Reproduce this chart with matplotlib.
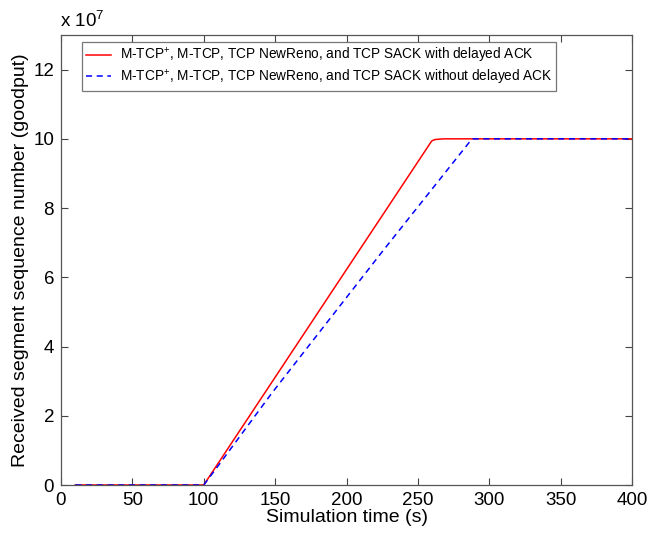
import matplotlib
matplotlib.use("Agg")
import matplotlib.pyplot as plt
from matplotlib.ticker import FuncFormatter

plt.rcParams['font.family'] = ['Liberation Sans', 'DejaVu Sans']
plt.rcParams['mathtext.fontset'] = 'custom'
plt.rcParams['mathtext.rm'] = 'Liberation Sans'
plt.rcParams['mathtext.it'] = 'Liberation Sans'

# Data (segment numbers)
red_t = [10, 100, 259.7, 262, 266, 269, 400]
red_v = [0, 0, 9.94e7, 9.98e7, 9.995e7, 10.0e7, 10.0e7]
blue_t = [10, 100, 110, 147.6, 225.6, 286, 288.4, 400]
blue_v = [0, 0, 0.55e7, 2.65e7, 6.77e7, 9.9e7, 10.0e7, 10.0e7]

label_red = "M-TCP$^{+}$, M-TCP, TCP NewReno, and TCP SACK with delayed ACK"
label_blue = "M-TCP$^{+}$, M-TCP, TCP NewReno, and TCP SACK without delayed ACK"
xticks = [0, 50, 100, 150, 200, 250, 300, 350, 400]
yticks = [0, 2e7, 4e7, 6e7, 8e7, 10e7, 12e7]

fig = plt.figure(figsize=(6.5, 5.38), dpi=100)
ax = fig.add_axes([61/650, 53/538, 571/650, 450/538])

ax.plot(red_t, red_v, color='#ff0000', lw=1.1, ls='-', label=label_red)
ax.plot(blue_t, blue_v, color='#0000ff', lw=1.1, ls=(0, (4, 3)), label=label_blue)

ax.set_xlim(0, 400)
ax.set_ylim(0, 13e7)
ax.set_xticks(xticks)
ax.set_yticks(yticks)
ax.yaxis.set_major_formatter(FuncFormatter(lambda v, p: f"{v/1e7:g}"))
ax.tick_params(direction='in', top=True, right=True, labelsize=13.5, length=5,
               color='#444444', pad=5)
for s in ax.spines.values():
    s.set_color('#555555')
    s.set_linewidth(0.9)

ax.set_xlabel("Simulation time (s)", fontsize=14, labelpad=0)
ax.set_ylabel("Received segment sequence number (goodput)", fontsize=14, labelpad=3)
fig.text(60/650, 1 - 21/538, "x 10$^{7}$", fontsize=13.5, ha='left', va='center')

leg = ax.legend(loc='upper left', bbox_to_anchor=(0.036, 0.985), fontsize=9.8,
                frameon=True, fancybox=False, edgecolor='#555555',
                handlelength=1.85, borderpad=0.3, labelspacing=0.2,
                handletextpad=0.65, borderaxespad=0)
leg.get_frame().set_linewidth(0.9)

fig.savefig("out.png", dpi=100)
